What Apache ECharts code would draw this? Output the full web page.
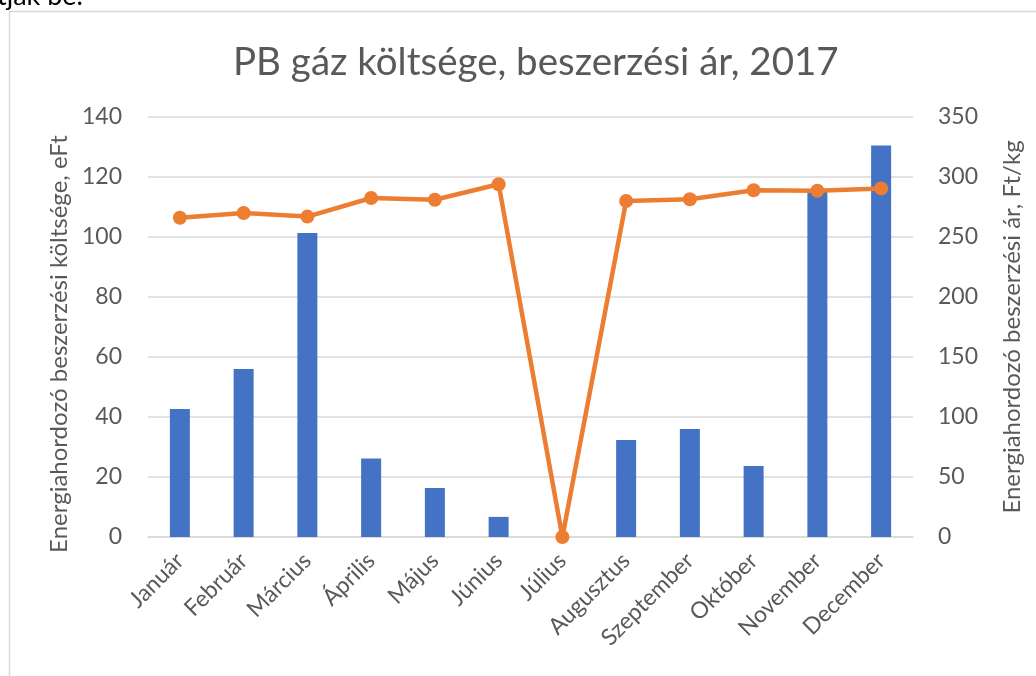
<!DOCTYPE html>
<html>
<head>
<meta charset="utf-8">
<script src="https://cdn.jsdelivr.net/npm/echarts@6/dist/echarts.min.js"></script>
<style>
  html, body { margin: 0; padding: 0; background: #fff; }
  #chart { width: 1036px; height: 676px; }
</style>
</head>
<body>
<div id="chart"></div>
<script>
// adatok
const months = ['Január', 'Február', 'Március', 'Április', 'Május', 'Június', 'Július',
  'Augusztus', 'Szeptember', 'Október', 'November', 'December']
const costValues = [42.7, 56, 101.3, 26.2, 16.3, 6.7, 0, 32.3, 36, 23.7, 116, 130.5]
const priceValues = [266, 270, 267, 282.5, 281, 294, 0, 280, 281.5, 289, 288.5, 290.5]

const fontFamily = 'Lato, "Open Sans", sans-serif'
const textColor = '#595959'
const gridColor = '#d9d9d9'

const chart = echarts.init(document.getElementById('chart'))

const option = {
  animation: false,
  textStyle: { fontFamily: fontFamily },
  title: {
    text: 'PB gáz költsége, beszerzési ár, 2017',
    left: 228,
    top: 38,
    textStyle: { fontFamily: fontFamily, fontSize: 38.5, fontWeight: 'normal', color: textColor }
  },
  graphic: [
    {
      type: 'rect',
      shape: { x: 9.5, y: 11.5, width: 1100, height: 720 },
      style: { fill: 'none', stroke: gridColor, lineWidth: 1.5 },
      silent: true
    },
    {
      type: 'text',
      left: -3,
      top: -17,
      style: { text: 'tják be.', fontSize: 27, fontFamily: fontFamily, fill: '#000' },
      silent: true
    }
  ],
  grid: {
    left: 148,
    right: 123,
    top: 117,
    bottom: 139
  },
  xAxis: {
    type: 'category',
    data: months,
    axisLine: { lineStyle: { color: gridColor, width: 1.5 } },
    axisTick: { show: false },
    axisLabel: {
      rotate: 45,
      color: textColor,
      fontSize: 23,
      margin: 20,
      interval: 0
    }
  },
  yAxis: [
    {
      type: 'value',
      min: 0,
      max: 140,
      interval: 20,
      name: 'Energiahordozó beszerzési költsége, eFt',
      nameLocation: 'middle',
      nameGap: 76,
      nameTextStyle: { fontSize: 24, color: textColor, padding: [0, 34, 0, 0] },
      axisLabel: { color: textColor, fontSize: 23, margin: 26 },
      splitLine: { lineStyle: { color: gridColor, width: 1.5 } },
      axisLine: { show: false },
      axisTick: { show: false }
    },
    {
      type: 'value',
      min: 0,
      max: 350,
      interval: 50,
      name: 'Energiahordozó beszerzési ár, Ft/kg',
      nameLocation: 'middle',
      nameGap: 87,
      nameRotate: 90,
      nameTextStyle: { fontSize: 24, color: textColor },
      axisLabel: { color: textColor, fontSize: 23, margin: 25 },
      splitLine: { show: false },
      axisLine: { show: false },
      axisTick: { show: false }
    }
  ],
  series: [
    {
      name: 'Költség',
      type: 'bar',
      data: costValues,
      barWidth: 20,
      itemStyle: { color: '#4472c4' },
      yAxisIndex: 0
    },
    {
      name: 'Beszerzési ár',
      type: 'line',
      data: priceValues,
      yAxisIndex: 1,
      symbol: 'circle',
      symbolSize: 14,
      lineStyle: { color: '#ed7d31', width: 4.5 },
      itemStyle: { color: '#ed7d31' }
    }
  ]
}

chart.setOption(option)
</script>
</body>
</html>
